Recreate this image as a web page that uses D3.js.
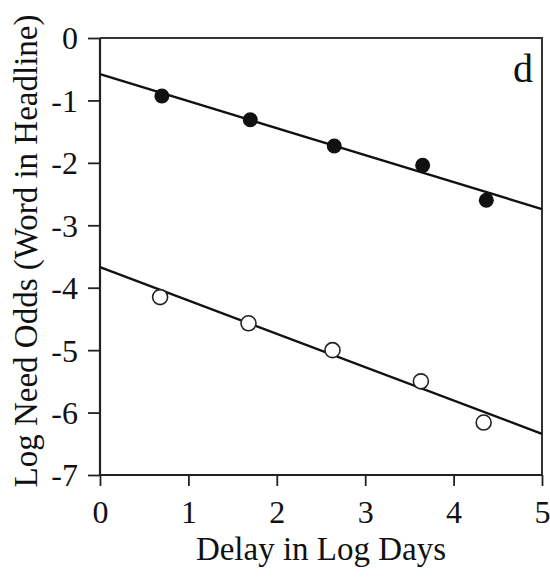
<!DOCTYPE html>
<html>
<head>
<meta charset="utf-8">
<script src="https://cdn.jsdelivr.net/npm/d3@7.9.0/dist/d3.min.js"></script>
<style>
  body { margin: 0; background: #fff; }
  svg { display: block; font-family: "Liberation Serif", "DejaVu Serif", serif; }
</style>
</head>
<body>
<svg width="550" height="580"></svg>
<script>
// Data
let delays = [0.70, 1.70, 2.65, 3.65, 4.37];
let headlineOdds = [-0.93, -1.31, -1.73, -2.04, -2.60];
let delaysOpen = [0.68, 1.68, 2.63, 3.63, 4.34];
let otherOdds = [-4.15, -4.57, -5.00, -5.50, -6.16];

// fitted lines, end points at x = 0 and x = 5
let fitX = [0, 5];
let headlineFit = [-0.58, -2.74];
let otherFit = [-3.67, -6.34];

let xTicks = [0, 1, 2, 3, 4, 5];
let yTicks = [0, -1, -2, -3, -4, -5, -6, -7];

let svg = d3.select("svg");
let plotLeft = 100, plotRight = 542, plotTop = 38, plotBottom = 475;

let x = d3.scaleLinear().domain([0, 5]).range([plotLeft, plotRight]);
let y = d3.scaleLinear().domain([-7, 0]).range([plotBottom, plotTop]);

// frame (top and right)
svg.append("path")
    .attr("d", `M${plotLeft},${plotTop}H${plotRight}V${plotBottom}`)
    .attr("fill", "none")
    .attr("stroke", "#333")
    .attr("stroke-width", 2);

// axes
let xAxis = svg.append("g")
    .attr("transform", `translate(0,${plotBottom})`)
    .call(d3.axisBottom(x).tickValues(xTicks).tickFormat(d3.format("d")).tickSize(11).tickPadding(14));

let yAxis = svg.append("g")
    .attr("transform", `translate(${plotLeft},0)`)
    .call(d3.axisLeft(y).tickValues(yTicks).tickFormat(d => d === 0 ? "0" : "-" + Math.abs(d)).tickSize(12).tickPadding(10));

[xAxis, yAxis].forEach(g => {
    g.select(".domain").attr("stroke", "#222").attr("stroke-width", 2.2);
    g.selectAll(".tick line").attr("stroke", "#222").attr("stroke-width", 1.8);
    g.selectAll(".tick text")
        .attr("fill", "#111")
        .style("font-family", "'Liberation Serif', serif")
        .style("font-size", "32px");
});
xAxis.select(".domain").attr("d", `M${plotLeft},0H${plotRight}`);
yAxis.select(".domain").attr("d", `M0,${plotBottom}V${plotTop}`);
yAxis.selectAll(".tick text").attr("dy", "0.34em");

// fitted lines
let line = d3.line().x(d => x(d[0])).y(d => y(d[1]));
[headlineFit, otherFit].forEach(fit => {
    svg.append("path")
        .datum(fitX.map((v, i) => [v, fit[i]]))
        .attr("d", line)
        .attr("fill", "none")
        .attr("stroke", "#111")
        .attr("stroke-width", 2.4);
});

// filled points
svg.selectAll("circle.filled")
    .data(delays.map((d, i) => [d, headlineOdds[i]]))
    .enter()
    .append("circle")
    .attr("class", "filled")
    .attr("cx", d => x(d[0]))
    .attr("cy", d => y(d[1]))
    .attr("r", 7.5)
    .attr("fill", "#111");

// open points
svg.selectAll("circle.open")
    .data(delaysOpen.map((d, i) => [d, otherOdds[i]]))
    .enter()
    .append("circle")
    .attr("class", "open")
    .attr("cx", d => x(d[0]))
    .attr("cy", d => y(d[1]))
    .attr("r", 7.5)
    .attr("fill", "#fff")
    .attr("stroke", "#222")
    .attr("stroke-width", 1.6);

// panel letter
svg.append("text")
    .attr("x", 533)
    .attr("y", 82)
    .attr("text-anchor", "end")
    .attr("fill", "#111")
    .style("font-size", "40px")
    .text("d");

// axis titles
svg.append("text")
    .attr("x", (plotLeft + plotRight) / 2)
    .attr("y", 560)
    .attr("text-anchor", "middle")
    .attr("fill", "#111")
    .style("font-size", "33px")
    .text("Delay in Log Days");

svg.append("text")
    .attr("transform", "translate(37,251) rotate(-90)")
    .attr("text-anchor", "middle")
    .attr("fill", "#111")
    .style("font-size", "33px")
    .text("Log Need Odds (Word in Headline)");
</script>
</body>
</html>
